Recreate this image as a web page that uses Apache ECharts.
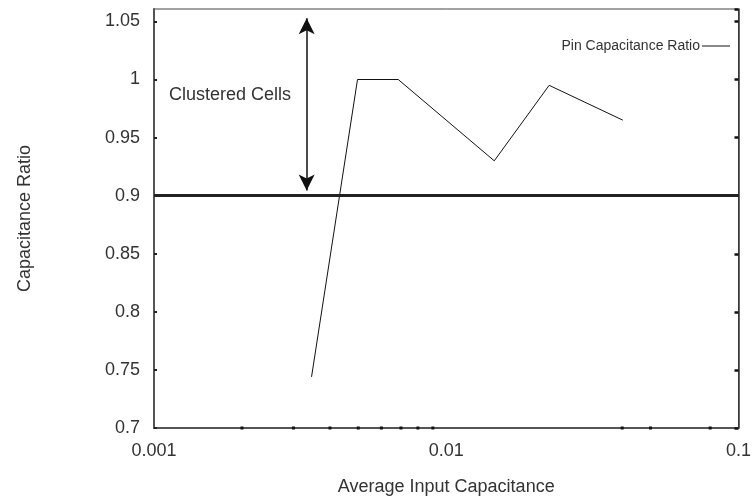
<!DOCTYPE html>
<html>
<head>
<meta charset="utf-8">
<script src="https://cdn.jsdelivr.net/npm/echarts@6/dist/echarts.min.js"></script>
<style>
  html, body { margin: 0; padding: 0; background: #fff; }
  #chart { width: 754px; height: 501px; }
</style>
</head>
<body>
<div id="chart"></div>
<script>
// pin capacitance ratio vs average input capacitance
var inputCap = [0.00346, 0.00497, 0.00685, 0.0146, 0.0225, 0.0402];
var capRatio = [0.744, 1.0, 1.0, 0.930, 0.995, 0.965];

var xMin = 0.001, xMax = 0.1;
var yMin = 0.7, yMax = 1.0607, yStep = 0.05;
var threshold = 0.9;

// the double arrow for "Clustered Cells"
var arrowX = 0.00333;
var arrowTop = 1.0527, arrowBottom = 0.9045;

// small tick marks drawn along the x axis
var xMinorTicks = [0.002, 0.003, 0.004, 0.005, 0.006, 0.007, 0.008, 0.009, 0.04, 0.05, 0.08];

var font = '"Liberation Sans", Arial, sans-serif';
var chart = echarts.init(document.getElementById('chart'));

var option = {
    animation: false,
    grid: {
        left: 154, right: 11, top: 9, bottom: 70,
        show: true, borderColor: '#444', borderWidth: 1
    },
    legend: {
        data: [{ name: 'Pin Capacitance Ratio', icon: 'rect' }],
        right: 19, top: 34,
        align: 'right',
        itemWidth: 28, itemHeight: 1, itemGap: 0,
        itemStyle: { color: '#111' },
        textStyle: { fontFamily: font, fontSize: 14, color: '#333', padding: [0, -3, 0, 0] }
    },
    graphic: [{
        type: 'text',
        left: 169, top: 86,
        style: { text: 'Clustered Cells', font: '18px ' + font, fill: '#333' }
    }],
    xAxis: {
        type: 'log', logBase: 10,
        min: xMin, max: xMax,
        name: 'Average Input Capacitance',
        nameLocation: 'middle', nameGap: 50,
        nameTextStyle: { fontFamily: font, fontSize: 18, color: '#333' },
        axisLine: { lineStyle: { color: '#555', width: 2 } },
        axisTick: { show: false },
        splitLine: { show: false },
        axisLabel: { fontFamily: font, fontSize: 18, color: '#333', margin: 14 }
    },
    yAxis: [{
        type: 'value',
        min: yMin, max: yMax, interval: yStep,
        name: 'Capacitance Ratio',
        nameLocation: 'middle', nameGap: 120,
        nameTextStyle: { fontFamily: font, fontSize: 18, color: '#333' },
        axisLine: { show: true, lineStyle: { color: '#555', width: 2 } },
        axisTick: { show: true, inside: true, length: 3, lineStyle: { color: '#222', width: 2 } },
        splitLine: { show: false },
        axisLabel: { fontFamily: font, fontSize: 18, color: '#333', margin: 14, showMaxLabel: false }
    }, {
        type: 'value', position: 'right',
        min: yMin, max: yMax, interval: yStep,
        axisLine: { show: true, lineStyle: { color: '#333', width: 1.5 } },
        axisTick: { show: true, inside: true, length: 4, lineStyle: { color: '#111', width: 2.5 } },
        splitLine: { show: false },
        axisLabel: { show: false }
    }],
    series: [{
        name: 'Pin Capacitance Ratio',
        type: 'line',
        symbol: 'none',
        data: inputCap.map(function (x, i) { return [x, capRatio[i]]; }),
        lineStyle: { color: '#111', width: 1 },
        itemStyle: { color: '#111' },
        markLine: {
            silent: true,
            animation: false,
            symbol: ['none', 'none'],
            label: { show: false },
            data: [
                { yAxis: threshold, lineStyle: { color: '#222', width: 3, type: 'solid' } },
                [
                    { coord: [arrowX, arrowTop], symbol: 'arrow', symbolSize: [12, 16] },
                    { coord: [arrowX, arrowBottom], symbol: 'arrow', symbolSize: [12, 16],
                      lineStyle: { color: '#111', width: 1.5, type: 'solid' } }
                ]
            ]
        }
    }, {
        name: 'minorTicks',
        type: 'custom',
        silent: true,
        clip: false,
        z: 10,
        data: xMinorTicks.map(function (x) { return [x, yMin]; }),
        renderItem: function (params, api) {
            var p = api.coord([api.value(0), api.value(1)]);
            return {
                type: 'rect',
                shape: { x: p[0] - 1.5, y: p[1] - 1.5, width: 3, height: 3 },
                style: { fill: '#111' }
            };
        }
    }]
};
chart.setOption(option);
</script>
</body>
</html>
